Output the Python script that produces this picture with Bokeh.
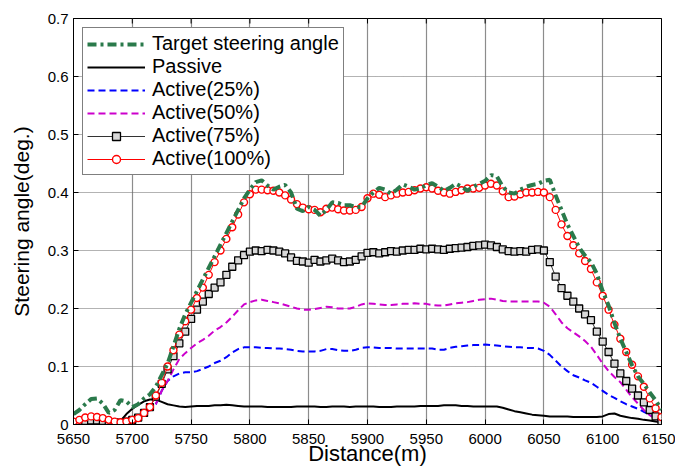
from bokeh.plotting import figure
from bokeh.models import Legend, LegendItem, FixedTicker
from bokeh.embed import file_html
from bokeh.resources import INLINE

# Distance samples (m), every 5 m
dist = list(range(5650, 6151, 5))

target = [
    0.018, 0.025, 0.035, 0.044, 0.045, 0.036, 0.020, 0.025, 0.042, 0.040,
    0.030, 0.035, 0.045, 0.052, 0.065, 0.085, 0.105, 0.135, 0.165, 0.190,
    0.210, 0.230, 0.250, 0.270, 0.290, 0.310, 0.330, 0.350, 0.370, 0.390,
    0.405, 0.418, 0.421, 0.412, 0.405, 0.410, 0.413, 0.400, 0.372, 0.368,
    0.375, 0.370, 0.360, 0.370, 0.383, 0.382, 0.378, 0.378, 0.375, 0.375,
    0.390, 0.400, 0.408, 0.405, 0.398, 0.405, 0.414, 0.410, 0.405, 0.407,
    0.413, 0.416, 0.410, 0.403, 0.408, 0.415, 0.410, 0.403, 0.410, 0.415,
    0.420, 0.430, 0.428, 0.410, 0.400, 0.398, 0.405, 0.410, 0.413, 0.415,
    0.420, 0.422, 0.395, 0.370, 0.345, 0.325, 0.305, 0.291, 0.280, 0.260,
    0.230, 0.205, 0.175, 0.148, 0.125, 0.102, 0.083, 0.070, 0.055, 0.042,
    0.025,
]

passive = [
    0.000, 0.002, 0.004, 0.005, 0.005, 0.004, 0.003, 0.003, 0.006, 0.018,
    0.027, 0.034, 0.040, 0.043, 0.043, 0.039, 0.035, 0.033, 0.031, 0.030,
    0.031, 0.032, 0.032, 0.032, 0.033, 0.033, 0.034, 0.033, 0.032, 0.031,
    0.031, 0.031, 0.031, 0.030, 0.030, 0.030, 0.030, 0.030, 0.031, 0.031,
    0.031, 0.031, 0.030, 0.030, 0.031, 0.031, 0.031, 0.030, 0.031, 0.031,
    0.031, 0.031, 0.030, 0.030, 0.030, 0.031, 0.031, 0.031, 0.031, 0.032,
    0.032, 0.032, 0.032, 0.033, 0.033, 0.033, 0.032, 0.032, 0.031, 0.031,
    0.031, 0.031, 0.031, 0.029, 0.026, 0.023, 0.021, 0.019, 0.017, 0.016,
    0.015, 0.014, 0.014, 0.014, 0.014, 0.013, 0.013, 0.013, 0.013, 0.013,
    0.014, 0.018, 0.019, 0.015, 0.013, 0.011, 0.010, 0.008, 0.007, 0.005,
    0.004,
]

active25 = [
    0.003, 0.004, 0.006, 0.007, 0.007, 0.006, 0.004, 0.003, 0.003, 0.005,
    0.008, 0.011, 0.018, 0.026, 0.035, 0.058, 0.075, 0.083, 0.088, 0.090,
    0.090, 0.092, 0.096, 0.100, 0.106, 0.110, 0.116, 0.124, 0.130, 0.133,
    0.133, 0.133, 0.132, 0.132, 0.131, 0.131, 0.130, 0.129, 0.127, 0.126,
    0.126, 0.126, 0.127, 0.130, 0.130, 0.128, 0.127, 0.127, 0.129, 0.132,
    0.133, 0.133, 0.132, 0.132, 0.132, 0.131, 0.131, 0.131, 0.131, 0.131,
    0.131, 0.131, 0.129, 0.129, 0.132, 0.134, 0.135, 0.136, 0.137, 0.137,
    0.138, 0.137, 0.136, 0.135, 0.134, 0.133, 0.133, 0.132, 0.132, 0.131,
    0.127, 0.120, 0.110, 0.100, 0.092, 0.085, 0.081, 0.076, 0.072, 0.065,
    0.058, 0.051, 0.046, 0.040, 0.035, 0.031, 0.027, 0.022, 0.017, 0.012,
    0.006,
]

active50 = [
    0.003, 0.004, 0.006, 0.007, 0.007, 0.006, 0.004, 0.003, 0.003, 0.005,
    0.008, 0.011, 0.018, 0.026, 0.035, 0.058, 0.075, 0.095, 0.113, 0.123,
    0.132, 0.140, 0.146, 0.153, 0.162, 0.168, 0.176, 0.186, 0.197, 0.207,
    0.211, 0.214, 0.215, 0.213, 0.211, 0.209, 0.206, 0.203, 0.200, 0.198,
    0.198, 0.199, 0.201, 0.203, 0.202, 0.200, 0.200, 0.200, 0.203, 0.207,
    0.209, 0.208, 0.207, 0.206, 0.206, 0.207, 0.208, 0.208, 0.209, 0.208,
    0.208, 0.206, 0.205, 0.205, 0.207, 0.209, 0.210, 0.211, 0.213, 0.215,
    0.216, 0.217, 0.215, 0.213, 0.212, 0.212, 0.212, 0.212, 0.212, 0.212,
    0.210, 0.203, 0.190, 0.176, 0.166, 0.159, 0.152, 0.144, 0.134, 0.120,
    0.105, 0.092, 0.082, 0.073, 0.060, 0.047, 0.036, 0.025, 0.016, 0.009,
    0.004,
]

active75 = [
    0.003, 0.004, 0.006, 0.007, 0.007, 0.006, 0.004, 0.003, 0.003, 0.005,
    0.008, 0.012, 0.020, 0.030, 0.048, 0.070, 0.095, 0.118, 0.140, 0.160,
    0.182, 0.198, 0.212, 0.225, 0.236, 0.245, 0.258, 0.272, 0.283, 0.292,
    0.298, 0.300, 0.299, 0.301, 0.300, 0.298, 0.295, 0.288, 0.282, 0.281,
    0.279, 0.284, 0.281, 0.283, 0.286, 0.283, 0.280, 0.281, 0.284, 0.290,
    0.296, 0.297, 0.295, 0.297, 0.299, 0.298, 0.300, 0.301, 0.301, 0.303,
    0.302, 0.303, 0.302, 0.301, 0.303, 0.304, 0.305, 0.306, 0.308, 0.309,
    0.310, 0.309, 0.306, 0.302, 0.299, 0.298, 0.299, 0.298, 0.301, 0.302,
    0.300, 0.280, 0.255, 0.235, 0.222, 0.212, 0.200, 0.190, 0.180, 0.160,
    0.143, 0.125, 0.105, 0.088, 0.075, 0.062, 0.050, 0.038, 0.025, 0.014,
    0.005,
]

active100 = [
    0.005, 0.008, 0.012, 0.014, 0.013, 0.011, 0.008, 0.005, 0.004, 0.005,
    0.008, 0.011, 0.020, 0.030, 0.050, 0.072, 0.100, 0.128, 0.155, 0.178,
    0.198, 0.218, 0.236, 0.258, 0.280, 0.300, 0.320, 0.340, 0.362, 0.383,
    0.397, 0.405, 0.405, 0.404, 0.403, 0.400, 0.395, 0.388, 0.380, 0.374,
    0.371, 0.370, 0.366, 0.372, 0.374, 0.371, 0.369, 0.369, 0.370, 0.375,
    0.390, 0.398, 0.396, 0.392, 0.395, 0.398, 0.400, 0.401, 0.404, 0.407,
    0.409, 0.407, 0.403, 0.400, 0.398, 0.401, 0.404, 0.407, 0.407, 0.408,
    0.412, 0.415, 0.412, 0.402, 0.392, 0.393, 0.397, 0.400, 0.400, 0.401,
    0.400, 0.392, 0.370, 0.345, 0.325, 0.309, 0.295, 0.282, 0.268, 0.245,
    0.222, 0.198, 0.172, 0.148, 0.125, 0.103, 0.083, 0.065, 0.045, 0.028,
    0.013,
]

x_ticks = [5650, 5700, 5750, 5800, 5850, 5900, 5950, 6000, 6050, 6100, 6150]
y_ticks = [0, 0.1, 0.2, 0.3, 0.4, 0.5, 0.6, 0.7]

FONT = "Liberation Sans"

p = figure(width=675, height=470, x_range=(5650, 6150), y_range=(0, 0.7),
           output_backend="svg", toolbar_location=None,
           min_border_left=73, min_border_right=14, min_border_top=18, min_border_bottom=46)
p.background_fill_color = "white"
p.border_fill_color = "white"
p.outline_line_color = "black"
p.outline_line_width = 1

# axes
for ax in (p.xaxis[0], p.yaxis[0]):
    ax.major_tick_in = 5
    ax.major_tick_out = 0
    ax.minor_tick_line_color = None
    ax.axis_line_color = "black"
    ax.major_tick_line_color = "black"
    ax.major_label_text_font = FONT
    ax.major_label_text_font_size = "15px"
    ax.major_label_text_color = "black"
    ax.axis_label_text_font = FONT
    ax.axis_label_text_font_style = "normal"
    ax.axis_label_text_color = "black"

p.xaxis.ticker = FixedTicker(ticks=x_ticks)
p.yaxis.ticker = FixedTicker(ticks=y_ticks)
p.yaxis.major_label_overrides = {0: "0"}
p.xaxis.axis_label = "Distance(m)"
p.yaxis.axis_label = "Steering angle(deg.)"
p.xaxis.axis_label_text_font_size = "22px"
p.yaxis.axis_label_text_font_size = "21px"
p.xaxis.major_label_standoff = 9
p.xaxis.axis_label_standoff = -6
p.yaxis.major_label_standoff = 5
p.yaxis.axis_label_standoff = 12

# inward ticks on the top and right edges of the box (clipped to the frame)
p.scatter(x_ticks, [y_ticks[-1]] * len(x_ticks), marker="dash", angle=1.5708,
          size=10, line_color="black", line_width=1)
p.scatter([x_ticks[-1]] * len(y_ticks), y_ticks, marker="dash",
          size=10, line_color="black", line_width=1)

# grid
p.xgrid.ticker = FixedTicker(ticks=x_ticks)
p.ygrid.ticker = FixedTicker(ticks=y_ticks)
p.xgrid.grid_line_color = "#8c8c8c"
p.xgrid.grid_line_width = 1.2
p.ygrid.grid_line_color = "#666666"
p.ygrid.grid_line_dash = "1 1"
p.ygrid.grid_line_width = 1

# series
r_pass = p.line(dist, passive, line_color="black", line_width=2)
r_25 = p.line(dist, active25, line_color="#0000ff", line_width=2, line_dash="7 4")
r_50 = p.line(dist, active50, line_color="#cc00cc", line_width=2, line_dash="7 4")
r_75l = p.line(dist, active75, line_color="#333333", line_width=1)
r_75m = p.scatter(dist, active75, marker="square", size=7, line_color="black",
                  fill_color="#d8d8d8", line_width=1.3)
r_100l = p.line(dist, active100, line_color="red", line_width=1)
r_100m = p.scatter(dist, active100, marker="circle", size=7, line_color="red",
                   fill_color="white", line_width=1.4)
r_tgt = p.line(dist, target, line_color="#2a7a4b", line_width=4, line_dash="9 4 3 4")

legend = Legend(items=[
    LegendItem(label="Target steering angle", renderers=[r_tgt]),
    LegendItem(label="Passive", renderers=[r_pass]),
    LegendItem(label="Active(25%)", renderers=[r_25]),
    LegendItem(label="Active(50%)", renderers=[r_50]),
    LegendItem(label="Active(75%)", renderers=[r_75l, r_75m]),
    LegendItem(label="Active(100%)", renderers=[r_100l, r_100m]),
], location="top_left", margin=9, padding=4, spacing=0,
   glyph_width=58, glyph_height=20, label_height=20, label_standoff=7,
   label_text_font=FONT, label_text_font_size="20px", label_text_color="black",
   border_line_color="black", border_line_width=1,
   background_fill_color="white", background_fill_alpha=1.0)
p.add_layout(legend)

open("out.html", "w").write(file_html(p, INLINE))
